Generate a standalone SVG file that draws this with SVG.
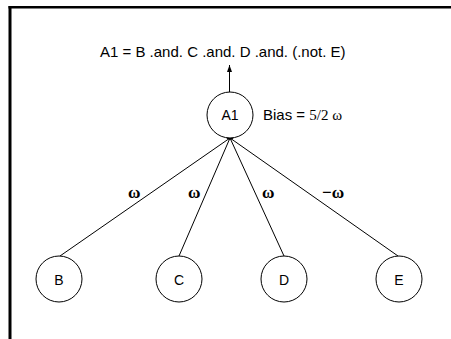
<svg xmlns="http://www.w3.org/2000/svg" width="451" height="339" viewBox="0 0 451 339">
  <defs>
    <marker id="arrow" viewBox="0 0 7 5" refX="7" refY="2.5" markerWidth="7" markerHeight="5" markerUnits="userSpaceOnUse" orient="auto">
      <path d="M0,0 L7,2.5 L0,5 Z" fill="#000"/>
    </marker>
  </defs>
  <style>
    .node circle { fill: #fff; stroke: #000; stroke-width: 1; }
    .node text { font-family: "Liberation Sans", Arial, sans-serif; font-size: 14px; text-anchor: middle; fill: #000; }
    .edge { stroke: #000; stroke-width: 1; fill: none; }
    .w { font-family: "Liberation Serif", "Times New Roman", serif; font-size: 17px; font-weight: bold; fill: #000; }
    .label { font-family: "Liberation Sans", Arial, sans-serif; font-size: 15px; fill: #000; }
    .serif { font-family: "Liberation Serif", "Times New Roman", serif; }
  </style>
  <rect width="451" height="339" fill="#fff"/>
  <!-- frame -->
  <rect x="8.5" y="6" width="3" height="333" fill="#000"/>
  <rect x="8.5" y="6" width="442.5" height="2.5" fill="#000"/>

  <text class="label" x="100" y="57">A1 = B .and. C .and. D .and. (.not. E)</text>

  <g id="connectors">
    <line class="edge" x1="229.5" y1="92" x2="229.5" y2="65" marker-end="url(#arrow)"/>
    <line class="edge" x1="230" y1="138" x2="60" y2="256"/>
    <line class="edge" x1="230" y1="138" x2="179" y2="256"/>
    <line class="edge" x1="230" y1="138" x2="284" y2="256"/>
    <line class="edge" x1="230" y1="138" x2="398" y2="256"/>
    <ellipse cx="230" cy="137.5" rx="3.5" ry="2" fill="#000"/>
    <text class="w" x="128" y="198">ω</text>
    <text class="w" x="188" y="198">ω</text>
    <text class="w" x="262" y="198">ω</text>
    <text class="w" x="322" y="198">−ω</text>
  </g>

  <g id="A1" class="node">
    <circle cx="230" cy="115" r="23"/>
    <text x="230" y="119.5">A1</text>
  </g>
  <text class="label" x="263" y="120">Bias = <tspan class="serif">5/2 ω</tspan></text>

  <g id="B" class="node">
    <circle cx="59" cy="279" r="23"/>
    <text x="59" y="284.5">B</text>
  </g>
  <g id="C" class="node">
    <circle cx="179" cy="279" r="23"/>
    <text x="179" y="284.5">C</text>
  </g>
  <g id="D" class="node">
    <circle cx="284" cy="279" r="23"/>
    <text x="284" y="284.5">D</text>
  </g>
  <g id="E" class="node">
    <circle cx="399" cy="279" r="23"/>
    <text x="399" y="284.5">E</text>
  </g>
</svg>
